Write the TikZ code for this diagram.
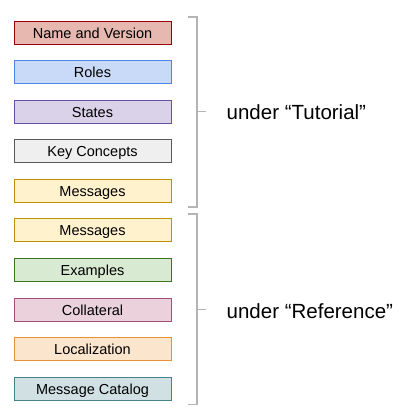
\documentclass[tikz,border=0pt]{standalone}
\usepackage{fontspec}
\setmainfont{Liberation Sans}
\definecolor{f1}{HTML}{E6B8AF}\definecolor{d1}{HTML}{980000}
\definecolor{f2}{HTML}{C9DAF8}\definecolor{d2}{HTML}{4A86E8}
\definecolor{f3}{HTML}{D9D2E9}\definecolor{d3}{HTML}{674EA7}
\definecolor{f4}{HTML}{EFEFEF}\definecolor{d4}{HTML}{595959}
\definecolor{f5}{HTML}{FFF2CC}\definecolor{d5}{HTML}{BF9000}
\definecolor{f7}{HTML}{D9EAD3}\definecolor{d7}{HTML}{38761D}
\definecolor{f8}{HTML}{EAD1DC}\definecolor{d8}{HTML}{A64D79}
\definecolor{f9}{HTML}{FCE5CD}\definecolor{d9}{HTML}{E69138}
\definecolor{f10}{HTML}{D0E0E3}\definecolor{d10}{HTML}{45818E}
\definecolor{bracegray}{HTML}{B4B4B4}
\begin{document}
\begin{tikzpicture}[x=1pt,y=-1pt,
  item/.style={draw, line width=0.9pt, minimum width=157pt, minimum height=23pt,
    inner sep=0pt, text height=11pt, text depth=0pt, font=\fontsize{14.5}{16}\selectfont},
  label/.style={anchor=base west, inner sep=0pt, font=\fontsize{20.5}{24}\selectfont},
  bracel/.style={draw=bracegray, line width=1.6pt}]
\path[use as bounding box] (0,0) rectangle (420,420);
\node[item, fill=f1, draw=d1] (b1) at (92.5,32.5) {Name and Version};
\node[item, fill=f2, draw=d2] (b2) at (92.5,72) {Roles};
\node[item, fill=f3, draw=d3] (b3) at (92.5,111.5) {States};
\node[item, fill=f4, draw=d4] (b4) at (92.5,151) {Key Concepts};
\node[item, fill=f5, draw=d5] (b5) at (92.5,190.5) {Messages};
\node[item, fill=f5, draw=d5] (b6) at (92.5,230) {Messages};
\node[item, fill=f7, draw=d7] (b7) at (92.5,270) {Examples};
\node[item, fill=f8, draw=d8] (b8) at (92.5,309.5) {Collateral};
\node[item, fill=f9, draw=d9] (b9) at (92.5,349) {Localization};
\node[item, fill=f10, draw=d10] (b10) at (92.5,388.5) {Message Catalog};
% braces
\draw[bracel] (188,17) -- (197,17) -- (197,207) -- (188,207);
\draw[bracel] (197,111.5) -- (206,111.5);
\draw[bracel] (188,214) -- (197,214) -- (197,404.5) -- (188,404.5);
\draw[bracel] (197,309.5) -- (206,309.5);
\node[label] (t1) at (226.5,119.5) {under “Tutorial”};
\node[label] (t2) at (226.5,318) {under “Reference”};
\end{tikzpicture}
\end{document}
